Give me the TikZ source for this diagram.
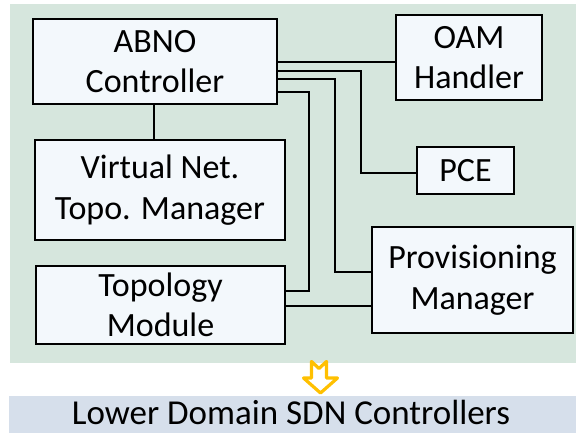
\documentclass[tikz,border=0pt]{standalone}
\usepackage{fontspec}
\setmainfont{Carlito}
\definecolor{bggreen}{HTML}{D6E6DD}
\definecolor{boxfill}{HTML}{F3F8FC}
\definecolor{barblue}{HTML}{D6DFEB}
\definecolor{gold}{HTML}{FFC000}
\begin{document}
\begin{tikzpicture}[x=1pt,y=-1pt,
  blk/.style={draw=black, line width=1.8pt, fill=boxfill, align=center, inner sep=0pt,
    font=\fontsize{34}{40.5}\selectfont},
  conn/.style={draw=black, line width=2.2pt}]
\useasboundingbox (0,0) rectangle (576,433);
\fill[bggreen] (10,4) rectangle (576,363);
\fill[barblue] (9,396) rectangle (576,433);
\node[font=\fontsize{35}{40}\selectfont, anchor=base, inner sep=0pt] (lower) at (291,424.5) {Lower Domain SDN Controllers};
\node[blk, minimum width=244pt, minimum height=85pt] (abno) at (155,61.5) {ABNO\\Controller};
\node[blk, minimum width=250pt, minimum height=100pt] (vn) at (160,190) {Virtual Net.\\Topo. Manager};
\node[blk, minimum width=249pt, minimum height=78pt] (topo) at (160.5,305) {Topology\\Module};
\node[blk, minimum width=201pt, minimum height=106pt] (prov) at (472.5,280) {Provisioning\\Manager};
\node[blk, minimum width=146pt, minimum height=85pt] (oam) at (469,57.5) {OAM\\Handler};
\node[blk, minimum width=97pt, minimum height=47pt] (pce) at (465.5,170.5) {PCE};
\draw[conn] (abno.south -| 154,0) -- (vn.north -| 154,0);
\draw[conn] (abno.east |- 0,62) -- (oam.west |- 0,62);
\draw[conn] (abno.east |- 0,71) -- (361,71) |- (pce.west |- 0,173);
\draw[conn] (abno.east |- 0,79) -- (335,79) |- (prov.west |- 0,272);
\draw[conn] (abno.east |- 0,92) -- (309,92) |- (topo.east |- 0,291);
\draw[conn] (topo.east |- 0,306) -- (prov.west |- 0,306);
\draw[gold, line width=3.2pt, fill=white, line join=round]
  (311.5,361.5) -- (319,368.5) -- (326.5,361.5) -- (326.5,378) -- (337.5,378)
  -- (320.5,393) -- (303.5,378) -- (311.5,378) -- cycle;
\end{tikzpicture}
\end{document}
